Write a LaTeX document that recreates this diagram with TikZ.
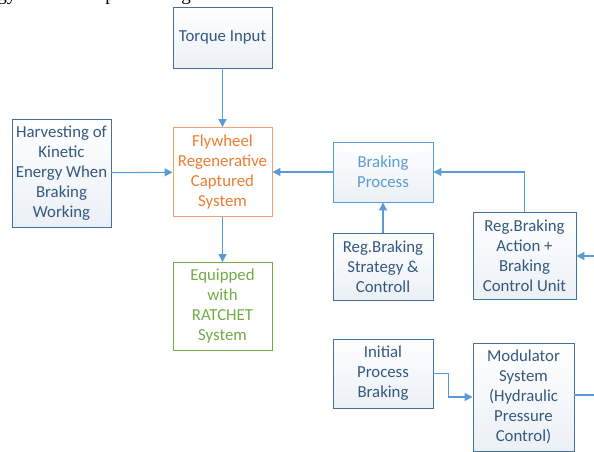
\documentclass[tikz,border=0pt]{standalone}
\usepackage{fontspec}
\setmainfont{Carlito}
\newfontfamily\serifpage{Liberation Serif}
\usetikzlibrary{arrows.meta}
\definecolor{bordblue}{HTML}{41719C}
\definecolor{lightblue}{HTML}{5B9BD5}
\definecolor{txtblue}{HTML}{35587E}
\definecolor{orng}{HTML}{ED7D31}
\definecolor{orngb}{HTML}{F0A070}
\definecolor{grn}{HTML}{70AD47}
\definecolor{fillbot}{HTML}{EBF0F6}
\tikzset{
  box/.style={draw=bordblue, line width=0.9pt, top color=white, bottom color=fillbot,
    align=center, text=txtblue, inner sep=1pt,
    font=\fontsize{16.8}{20}\selectfont},
  lbox/.style={box, draw=lightblue, text=lightblue},
  obox/.style={box, draw=orngb, text=orng, top color=white, bottom color=white},
  gbox/.style={box, draw=grn, text=grn, top color=white, bottom color=white},
  arr/.style={draw=lightblue, line width=1.1pt, -{Triangle[width=8pt,length=8pt]}},
  ln/.style={draw=lightblue, line width=1.1pt},
  frag/.style={font=\serifpage\fontsize{19}{19}\selectfont, anchor=base, inner sep=0pt}
}
\begin{document}
\begin{tikzpicture}[x=1pt,y=-1pt]
\useasboundingbox (0,0) rectangle (594,452);
\begin{scope}
\clip (0,0) rectangle (594,452);
\node[frag] (f1) at (7,1) {gy};
\node[frag] (f2) at (110,1) {p};
\node[frag] (f3) at (186,1) {g};
\end{scope}
\node[box, minimum width=99pt, minimum height=61pt] (tq) at (222.5,37.5) {Torque Input};
\node[box, minimum width=99pt, minimum height=108pt] (hv) at (61.5,173) {Harvesting of\\Kinetic\\Energy When\\Braking\\Working};
\node[obox, minimum width=99pt, minimum height=89pt] (fw) at (222.5,172) {Flywheel\\Regenerative\\Captured\\System};
\node[gbox, minimum width=99pt, minimum height=88pt] (eq) at (222.5,306.5) {Equipped\\with\\RATCHET\\System};
\node[lbox, minimum width=100pt, minimum height=60pt] (bp) at (383,172) {Braking\\Process};
\node[box, minimum width=100pt, minimum height=67pt] (st) at (383,266.5) {Reg.Braking\\Strategy \&\\Controll};
\node[box, minimum width=103pt, minimum height=87pt] (ac) at (524.5,255.5) {Reg.Braking\\Action +\\Braking\\Control Unit};
\node[box, minimum width=100pt, minimum height=69pt] (ip) at (383,373.5) {Initial\\Process\\Braking};
\node[box, minimum width=101pt, minimum height=108pt] (md) at (523.5,397) {Modulator\\System\\(Hydraulic\\Pressure\\Control)};
\coordinate (inA) at (596,256);
\coordinate (outM) at (596,395);
\draw[arr] (tq) -- (fw);
\draw[arr] (hv) -- (fw);
\draw[arr] (bp) -- (fw);
\draw[arr] (fw) -- (eq);
\draw[arr] (st) -- (bp);
\draw[arr] (ac.north) |- (bp.east);
\draw[arr] (inA) -- (ac.east |- inA);
\draw[arr] (ip.east) -- ++(15,0) |- (md.west);
\draw[ln] (md.east |- outM) -- (outM);
\end{tikzpicture}
\end{document}
